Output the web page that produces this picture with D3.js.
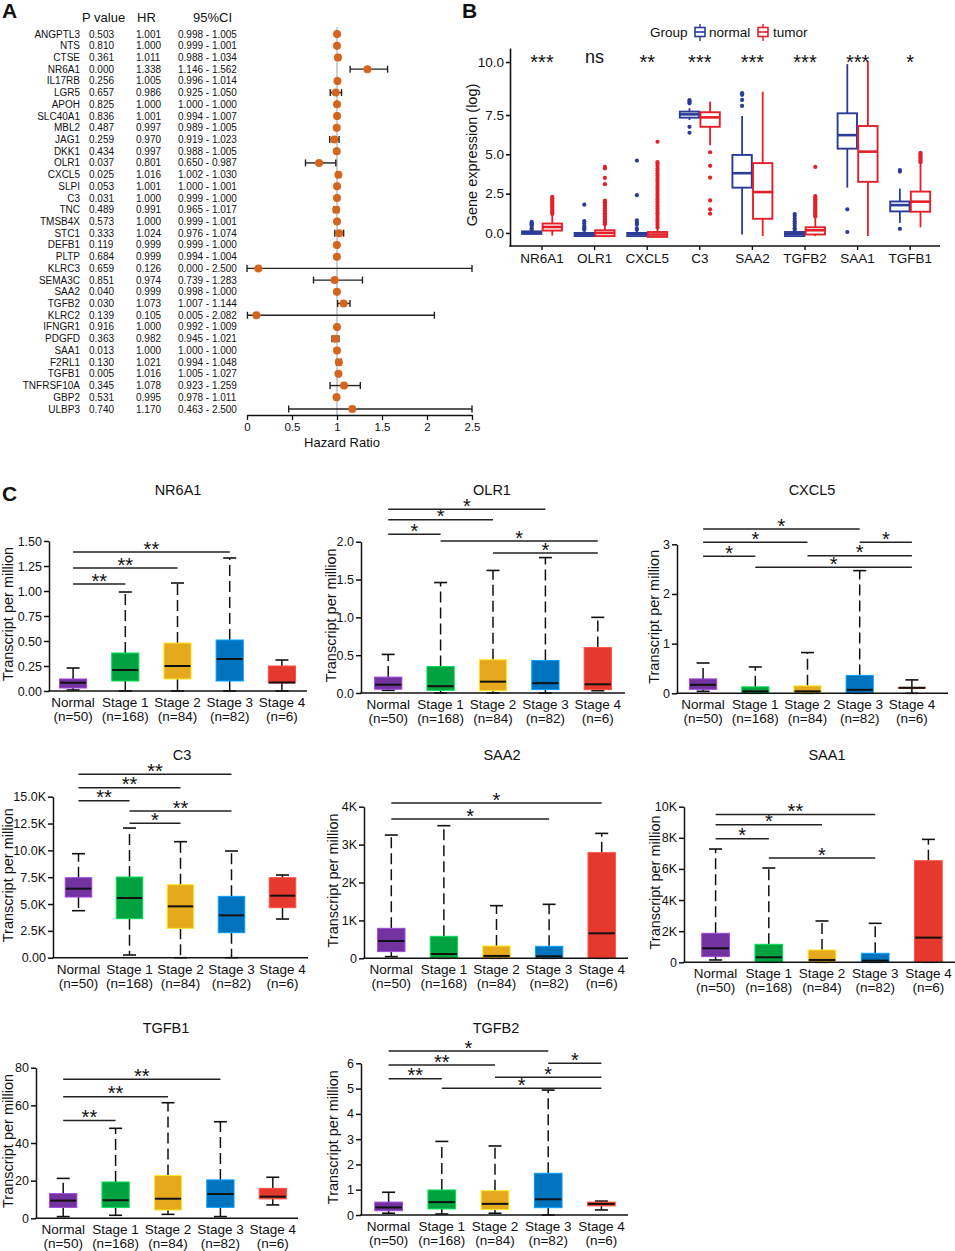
<!DOCTYPE html>
<html><head><meta charset="utf-8">
<script src="https://cdn.jsdelivr.net/npm/d3@7"></script>
<style>
body{margin:0;background:#fff}
svg text{font-family:"Liberation Sans",Arial,Helvetica,sans-serif;fill:#111}
</style>
</head><body>
<svg id="c" width="955" height="1251"></svg>
<script>
// ---------- Panel A data ----------
const forestGenes = ["ANGPTL3","NTS","CTSE","NR6A1","IL17RB","LGR5","APOH","SLC40A1","MBL2","JAG1","DKK1","OLR1","CXCL5","SLPI","C3","TNC","TMSB4X","STC1","DEFB1","PLTP","KLRC3","SEMA3C","SAA2","TGFB2","KLRC2","IFNGR1","PDGFD","SAA1","F2RL1","TGFB1","TNFRSF10A","GBP2","ULBP3"];
const forestP = ["0.503","0.810","0.361","0.000","0.256","0.657","0.825","0.836","0.487","0.259","0.434","0.037","0.025","0.053","0.031","0.489","0.573","0.333","0.119","0.684","0.659","0.851","0.040","0.030","0.139","0.916","0.363","0.013","0.130","0.005","0.345","0.531","0.740"];
const forestHR = [1.001,1.000,1.011,1.338,1.005,0.986,1.000,1.001,0.997,0.970,0.997,0.801,1.016,1.001,1.000,0.991,1.000,1.024,0.999,0.999,0.126,0.974,0.999,1.073,0.105,1.000,0.982,1.000,1.021,1.016,1.078,0.995,1.170];
const forestLow = [0.998,0.999,0.988,1.146,0.996,0.925,1.000,0.994,0.989,0.919,0.988,0.650,1.002,1.000,0.999,0.965,0.999,0.976,0.999,0.994,0.000,0.739,0.998,1.007,0.005,0.992,0.945,1.000,0.994,1.005,0.923,0.978,0.463];
const forestHigh = [1.005,1.001,1.034,1.562,1.014,1.050,1.000,1.007,1.005,1.023,1.005,0.987,1.030,1.001,1.000,1.017,1.001,1.074,1.000,1.004,2.500,1.283,1.000,1.144,2.082,1.009,1.021,1.000,1.048,1.027,1.259,1.011,2.500];
const hrTicks = [0,0.5,1,1.5,2,2.5];

// ---------- Panel B data ----------
const bGenes = ["NR6A1","OLR1","CXCL5","C3","SAA2","TGFB2","SAA1","TGFB1"];
const bSig = ["***","ns","**","***","***","***","***","*"];
const bTicks = [0,2.5,5,7.5,10];
// [lower whisker, q1, median, q3, upper whisker]
const bNormal = [
  [-0.1,-0.06,0.0,0.1,0.15],
  [-0.2,-0.2,-0.1,0.0,0.15],
  [-0.2,-0.2,-0.06,0.0,0.15],
  [7.18,7.33,7.53,7.66,7.82],
  [-0.1,2.88,3.8,4.96,7.44],
  [-0.2,-0.2,-0.05,0.06,0.15],
  [2.88,5.36,6.22,7.58,9.9],
  [0.64,1.37,1.77,2.0,2.82]
];
const bTumor = [
  [-0.17,0.15,0.38,0.6,1.15],
  [-0.2,-0.2,0.0,0.17,0.5],
  [-0.25,-0.25,-0.1,0.06,0.3],
  [5.58,6.75,7.35,7.63,8.13],
  [-0.2,0.9,2.6,4.44,8.6],
  [-0.2,-0.1,0.17,0.36,1.0],
  [-0.2,3.25,5.17,6.8,10.06],
  [0.36,1.35,1.99,2.63,4.4]
];
const bNormalOut = [
  [0.2,0.3,0.45,0.55,0.62,0.7],
  [0.2,0.3,0.43,0.6,0.75,1.8],
  [0.2,0.3,0.53,0.65,0.8,2.4,4.6],
  [8.05,8.13,8.2,6.75,6.37],
  [7.93,8.21,8.45,8.53],
  [0.2,0.3,0.45,0.6,0.75,0.9,1.07,1.2],
  [1.5,0.06],
  [3.9,4.0,0.26]
];
const bTumorOut = [
  [1.2,1.3,1.4,1.5,1.6,1.7,1.8,1.9,2.0,2.1,2.2,2.3],
  [0.55,0.65,0.75,0.85,0.95,1.05,1.15,1.25,1.35,1.45,1.55,1.65,1.75,1.85,1.95,2.05,3.1,3.5,4.1,4.2],
  [0.35,0.5,0.65,0.8,0.95,1.1,1.25,1.4,1.55,1.7,1.85,2.0,2.15,2.3,2.45,2.6,2.75,2.9,3.05,3.2,3.35,3.5,3.65,3.8,3.95,4.1,4.25,4.4,4.5,5.8],
  [5.13,4.27,3.52,2.07,1.5,1.22],
  [],
  [1.05,1.15,1.25,1.35,1.45,1.55,1.65,1.75,1.85,1.95,2.05,2.15,2.25,2.35,4.2],
  [],
  [4.5,4.6,4.7,4.8,4.9,5.0,5.1]
];

// ---------- Panel C data ----------
const stageNames = ["Normal","Stage 1","Stage 2","Stage 3","Stage 4"];
const stageN = ["(n=50)","(n=168)","(n=84)","(n=82)","(n=6)"];
const stageColors = ["#7232a0","#00a23f","#e6a81c","#0073bf","#e5392e"];
const cGenes = ["NR6A1","OLR1","CXCL5","C3","SAA2","SAA1","TGFB1","TGFB2"];

const statsNR6A1 = [[0.01,0.03,0.083,0.12,0.23],[0,0.10,0.21,0.38,0.99],[0,0.12,0.25,0.48,1.08],[0,0.10,0.32,0.51,1.33],[0,0.08,0.085,0.25,0.31]];
const statsOLR1  = [[0.035,0.05,0.11,0.21,0.51],[0,0.035,0.09,0.35,1.46],[0,0.03,0.15,0.44,1.62],[0,0.045,0.13,0.43,1.79],[0.03,0.045,0.115,0.6,1.0]];
const statsCXCL5 = [[0.04,0.08,0.17,0.29,0.61],[0,0,0.04,0.13,0.53],[0,0,0.04,0.15,0.82],[0,0,0.07,0.36,2.47],[0,0.1,0.11,0.12,0.27]];
const statsC3    = [[4380,5653,6430,7455,9690],[250,3634,5560,7516,12080],[0,2733,4783,6800,10810],[0,2330,3944,5715,9940],[3603,4659,5777,7455,7703]];
const statsSAA2  = [[44,176,457,791,3252],[0,0,114,580,3499],[0,0,62,325,1389],[0,0,53,316,1424],[0,0,659,2787,3296]];
const statsSAA1  = [[150,364,899,1863,7280],[0,0,321,1156,6060],[0,0,150,792,2655],[0,0,107,578,2505],[0,0,1584,6530,7900]];
const statsTGFB1 = [[0.9,5.8,9.4,13.1,21.2],[1.6,5.8,9.6,19.3,47.8],[2.1,4.4,10.4,22.7,61.4],[0.9,5.8,12.9,20.4,51.3],[7.1,10.3,11.5,15.9,21.8]];
const statsTGFB2 = [[0.07,0.17,0.30,0.51,0.9],[0.04,0.24,0.51,0.99,2.91],[0.07,0.22,0.44,0.96,2.73],[0,0.29,0.62,1.65,4.94],[0.2,0.36,0.44,0.51,0.55]];

// [from stage, to stage, height, label]
const sigNR6A1 = [[0,1,1.07,"**"],[0,2,1.23,"**"],[0,3,1.39,"**"]];
const sigOLR1  = [[0,1,2.10,"*"],[0,2,2.29,"*"],[0,3,2.43,"*"],[1,4,2.01,"*"],[2,4,1.85,"*"]];
const sigCXCL5 = [[0,1,2.76,"*"],[0,2,3.04,"*"],[0,3,3.31,"*"],[3,4,3.04,"*"],[2,4,2.77,"*"],[1,4,2.54,"*"]];
const sigC3    = [[0,1,14630,"**"],[0,2,15840,"**"],[0,3,17083,"**"],[1,3,13666,"**"],[1,2,12517,"*"]];
const sigSAA2  = [[0,3,3674,"*"],[0,4,4096,"*"]];
const sigSAA1  = [[0,1,7943,"*"],[0,2,8842,"*"],[0,3,9506,"**"],[1,3,6701,"*"]];
const sigTGFB1 = [[0,1,51.9,"**"],[0,2,64.6,"**"],[0,3,73.8,"**"]];
const sigTGFB2 = [[0,1,5.39,"**"],[0,2,5.93,"**"],[0,3,6.49,"*"],[3,4,6.0,"*"],[2,4,5.45,"*"],[1,4,5.01,"*"]];

const ticksNR6A1 = [0,0.25,0.5,0.75,1,1.25,1.5], labsNR6A1 = ["0.00","0.25","0.50","0.75","1.00","1.25","1.50"];
const ticksOLR1 = [0,0.5,1,1.5,2], labsOLR1 = ["0.0","0.5","1.0","1.5","2.0"];
const ticksCXCL5 = [0,1,2,3], labsCXCL5 = ["0","1","2","3"];
const ticksC3 = [0,2500,5000,7500,10000,12500,15000], labsC3 = ["0.00","2.5K","5.0K","7.5K","10.0K","12.5K","15.0K"];
const ticksSAA2 = [0,1000,2000,3000,4000], labsSAA2 = ["0","1K","2K","3K","4K"];
const ticksSAA1 = [0,2000,4000,6000,8000,10000], labsSAA1 = ["0","2K","4K","6K","8K","10K"];
const ticksTGFB1 = [0,20,40,60,80], labsTGFB1 = ["0","20","40","60","80"];
const ticksTGFB2 = [0,1,2,3,4,5,6], labsTGFB2 = ["0","1","2","3","4","5","6"];

// ---------- drawing ----------
const svg = d3.select("#c");

function label(x,y,t){svg.append("text").attr("x",x).attr("y",y).attr("font-size",21).attr("font-weight","bold").text(t);}
label(2,18,"A"); label(462,18,"B"); label(2,501,"C");

// ===== Panel A =====
(function(){
  const g = svg.append("g");
  const ry = d3.scalePoint().domain(forestGenes).range([34,409]);
  const hx = d3.scaleLinear().domain([0,2.5]).range([247,472]);
  const hdr = [["P value",82],["HR",137],["95%CI",193]];
  hdr.forEach(h=>g.append("text").attr("x",h[1]).attr("y",22).attr("font-size",13).text(h[0]));
  forestGenes.forEach((gn,i)=>{
    const y = ry(gn)+3.5;
    g.append("text").attr("x",80).attr("y",y).attr("font-size",10).attr("text-anchor","end").text(gn);
    g.append("text").attr("x",89).attr("y",y).attr("font-size",10).text(forestP[i]);
    g.append("text").attr("x",136).attr("y",y).attr("font-size",10).text(forestHR[i].toFixed(3));
    g.append("text").attr("x",178).attr("y",y).attr("font-size",10).text(forestLow[i].toFixed(3)+" - "+forestHigh[i].toFixed(3));
  });
  g.append("line").attr("x1",hx(1)).attr("x2",hx(1)).attr("y1",27).attr("y2",415).attr("stroke","#cfcfcf").attr("stroke-width",2);
  forestGenes.forEach((gn,i)=>{
    const y = ry(gn);
    g.append("line").attr("x1",hx(forestLow[i])).attr("x2",hx(forestHigh[i])).attr("y1",y).attr("y2",y).attr("stroke","#222").attr("stroke-width",1.4);
    [forestLow[i],forestHigh[i]].forEach(v=>g.append("line").attr("x1",hx(v)).attr("x2",hx(v)).attr("y1",y-3.5).attr("y2",y+3.5).attr("stroke","#222").attr("stroke-width",1.4));
    g.append("circle").attr("cx",hx(forestHR[i])).attr("cy",y).attr("r",4).attr("fill","#d5641c");
  });
  const ax = g.append("g").attr("transform","translate(0,415)")
    .call(d3.axisBottom(hx).tickValues(hrTicks).tickFormat(d3.format("")).tickSize(5).tickSizeOuter(0).tickPadding(3));
  ax.selectAll("path,line").attr("stroke","#111").attr("stroke-width",1.3);
  ax.selectAll("text").attr("font-size",11.5).style("font-family","'Liberation Sans',Arial,sans-serif");
  g.append("text").attr("x",342).attr("y",447).attr("font-size",13).attr("text-anchor","middle").text("Hazard Ratio");
})();

// ===== Panel B =====
(function(){
  const g = svg.append("g");
  const bx = d3.scaleBand().domain(bGenes).range([515.7,936.5]).paddingInner(0.24).paddingOuter(0.12);
  const sub = d3.scaleBand().domain(["normal","tumor"]).range([0,bx.bandwidth()]).paddingInner(0.06);
  const by = d3.scaleLinear().domain([-0.83,7.5,10.66]).range([246,115,48]);
  const col = {normal:"#2a3c97", tumor:"#e3202a"};
  bGenes.forEach((gn,i)=>{
    [["normal",bNormal[i],bNormalOut[i]],["tumor",bTumor[i],bTumorOut[i]]].forEach(([grp,s,out])=>{
      const x0 = bx(gn)+sub(grp), w = sub.bandwidth(), cx = x0+w/2, c = col[grp];
      g.append("line").attr("x1",cx).attr("x2",cx).attr("y1",by(s[0])).attr("y2",by(s[1])).attr("stroke",c).attr("stroke-width",1.8);
      g.append("line").attr("x1",cx).attr("x2",cx).attr("y1",by(s[3])).attr("y2",by(s[4])).attr("stroke",c).attr("stroke-width",1.8);
      g.append("rect").attr("x",x0).attr("y",by(s[3])).attr("width",w).attr("height",Math.max(0,by(s[1])-by(s[3])))
        .attr("fill","#fff").attr("stroke",c).attr("stroke-width",1.9);
      g.append("line").attr("x1",x0).attr("x2",x0+w).attr("y1",by(s[2])).attr("y2",by(s[2])).attr("stroke",c).attr("stroke-width",2.6);
      out.forEach(v=>g.append("circle").attr("cx",cx).attr("cy",by(v)).attr("r",2.1).attr("fill",c));
    });
    g.append("text").attr("x",bx(gn)+bx.bandwidth()/2).attr("y",bSig[i]==="ns"?63:69).attr("font-size",bSig[i]==="ns"?18:20).attr("text-anchor","middle").text(bSig[i]);
  });
  const ay = g.append("g").attr("transform","translate(510,0)")
    .call(d3.axisLeft(by).tickValues(bTicks).tickFormat(d3.format(".1f")).tickSize(4).tickSizeOuter(0).tickPadding(2));
  ay.selectAll("path,line").attr("stroke","#111").attr("stroke-width",1.6);
  ay.selectAll("text").attr("font-size",13.5).style("font-family","'Liberation Sans',Arial,sans-serif").attr("fill","#222");
  const axb = g.append("g").attr("transform","translate(0,246)")
    .call(d3.axisBottom(bx).tickSize(4).tickSizeOuter(0).tickPadding(3));
  axb.select(".domain").remove();
  axb.selectAll("line").attr("stroke","#111").attr("stroke-width",1.4);
  axb.selectAll("text").attr("font-size",13.5).style("font-family","'Liberation Sans',Arial,sans-serif").attr("fill","#111");
  g.append("line").attr("x1",509.2).attr("x2",940).attr("y1",246).attr("y2",246).attr("stroke","#111").attr("stroke-width",1.6);
  g.append("text").attr("transform","translate(477,155) rotate(-90)").attr("font-size",14.5).attr("text-anchor","middle").text("Gene expression (log)");
  // legend
  g.append("text").attr("x",650).attr("y",37).attr("font-size",13.5).text("Group");
  [["normal",695,709],["tumor",758,773]].forEach(([k,ix,tx])=>{
    const c = col[k];
    g.append("line").attr("x1",ix+5).attr("x2",ix+5).attr("y1",24).attr("y2",41).attr("stroke",c).attr("stroke-width",1.4);
    g.append("rect").attr("x",ix).attr("y",27.5).attr("width",10).attr("height",9).attr("fill","#fff").attr("stroke",c).attr("stroke-width",1.6);
    g.append("line").attr("x1",ix).attr("x2",ix+10).attr("y1",32).attr("y2",32).attr("stroke",c).attr("stroke-width",1.6);
    g.append("text").attr("x",tx).attr("y",37).attr("font-size",13.5).text(k);
  });
})();

// ===== Panel C =====
const cLayout = [
  {ax:49,  b0:47,  b1:308, xEnd:307, y0:691,    y1:541,    tx:178, ty:495,  ytx:13},
  {ax:361, b0:362, b1:624, xEnd:625, y0:693,    y1:541.7,  tx:492, ty:495,  ytx:336},
  {ax:677, b0:677, b1:938, xEnd:948, y0:693.3,  y1:544.3,  tx:812, ty:495,  ytx:659},
  {ax:53,  b0:53,  b1:308, xEnd:308, y0:957.7,  y1:796.7,  tx:182, ty:760,  ytx:13},
  {ax:364, b0:365, b1:628, xEnd:628, y0:958.3,  y1:806.7,  tx:502, ty:760,  ytx:338},
  {ax:684, b0:689, b1:955, xEnd:955, y0:962.3,  y1:806.7,  tx:827, ty:760,  ytx:660},
  {ax:36,  b0:37,  b1:299, xEnd:298, y0:1218.3, y1:1067.7, tx:166, ty:1033, ytx:13},
  {ax:361, b0:362, b1:628, xEnd:628, y0:1215,   y1:1063.3, tx:496, ty:1033, ytx:338}
];
const cStats = [statsNR6A1,statsOLR1,statsCXCL5,statsC3,statsSAA2,statsSAA1,statsTGFB1,statsTGFB2];
const cSigs = [sigNR6A1,sigOLR1,sigCXCL5,sigC3,sigSAA2,sigSAA1,sigTGFB1,sigTGFB2];
const cTicks = [ticksNR6A1,ticksOLR1,ticksCXCL5,ticksC3,ticksSAA2,ticksSAA1,ticksTGFB1,ticksTGFB2];
const cLabs = [labsNR6A1,labsOLR1,labsCXCL5,labsC3,labsSAA2,labsSAA1,labsTGFB1,labsTGFB2];

cGenes.forEach((gene,k)=>{
  const L = cLayout[k], stats = cStats[k], sigs = cSigs[k], tv = cTicks[k], tl = cLabs[k];
  const g = svg.append("g");
  const x = d3.scaleBand().domain(stageNames).range([L.b0,L.b1]).paddingInner(0.48).paddingOuter(0.24);
  const y = d3.scaleLinear().domain([0,tv[tv.length-1]]).range([L.y0,L.y1]);
  const bw = x.bandwidth(), capW = 13;
  stats.forEach((s,i)=>{
    const x0 = x(stageNames[i]), cx = x0+bw/2, c = stageColors[i];
    g.append("line").attr("x1",cx).attr("x2",cx).attr("y1",y(s[3])).attr("y2",y(s[4])).attr("stroke","#111").attr("stroke-width",1.5).attr("stroke-dasharray","11,5");
    g.append("line").attr("x1",cx).attr("x2",cx).attr("y1",y(s[1])).attr("y2",y(s[0])).attr("stroke","#111").attr("stroke-width",1.5).attr("stroke-dasharray","11,5");
    [s[0],s[4]].forEach(v=>g.append("line").attr("x1",cx-capW/2).attr("x2",cx+capW/2).attr("y1",y(v)).attr("y2",y(v)).attr("stroke","#111").attr("stroke-width",1.6));
    g.append("rect").attr("x",x0).attr("y",y(s[3])).attr("width",bw).attr("height",Math.max(0.8,y(s[1])-y(s[3])))
      .attr("fill",c).attr("stroke",d3.color(c).brighter(0.9)).attr("stroke-width",1);
    g.append("line").attr("x1",x0+0.5).attr("x2",x0+bw-0.5).attr("y1",y(s[2])).attr("y2",y(s[2])).attr("stroke","#111").attr("stroke-width",2);
    g.append("text").attr("x",cx).attr("y",L.y0+16).attr("font-size",13.5).attr("text-anchor","middle").text(stageNames[i]);
    g.append("text").attr("x",cx).attr("y",L.y0+30).attr("font-size",13.5).attr("text-anchor","middle").text(stageN[i]);
  });
  const ay = g.append("g").attr("transform",`translate(${L.ax},0)`)
    .call(d3.axisLeft(y).tickValues(tv).tickFormat((d,i)=>tl[i]).tickSize(5).tickSizeOuter(0).tickPadding(2));
  ay.selectAll("path,line").attr("stroke","#111").attr("stroke-width",1.5);
  ay.selectAll("text").attr("font-size",12.5).style("font-family","'Liberation Sans',Arial,sans-serif").attr("fill","#111");
  g.append("line").attr("x1",L.ax-0.75).attr("x2",L.xEnd).attr("y1",L.y0).attr("y2",L.y0).attr("stroke","#111").attr("stroke-width",1.5);
  sigs.forEach(([a,b,h,t])=>{
    const xa = x(stageNames[a])+bw/2, xb = x(stageNames[b])+bw/2;
    g.append("line").attr("x1",xa).attr("x2",xb).attr("y1",y(h)).attr("y2",y(h)).attr("stroke","#222").attr("stroke-width",1.5);
    g.append("text").attr("x",(xa+xb)/2).attr("y",y(h)+3.6).attr("font-size",20).attr("text-anchor","middle").text(t);
  });
  g.append("text").attr("x",L.tx).attr("y",L.ty).attr("font-size",14.5).attr("text-anchor","middle").text(gene);
  g.append("text").attr("transform",`translate(${L.ytx},${(L.y0+L.y1)/2-2}) rotate(-90)`).attr("font-size",14.5).attr("text-anchor","middle").text("Transcript per million");
});
</script>
</body></html>
